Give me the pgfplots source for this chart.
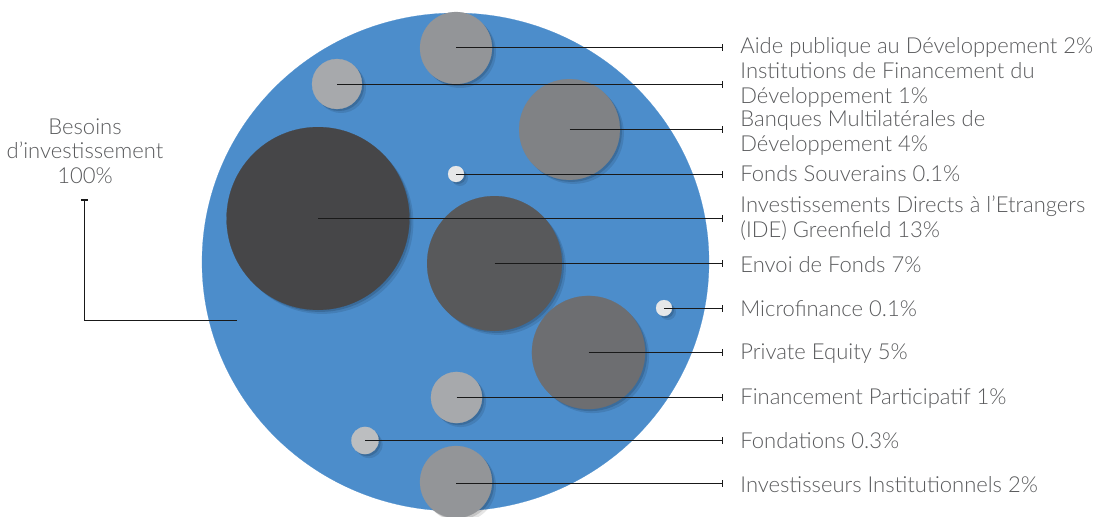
\documentclass[border=0pt]{standalone}
\usepackage{pgfplots}
\pgfplotsset{compat=1.18}
\usepackage{fontspec}
\setmainfont{Lato}[UprightFont=* Light]
\definecolor{bigblue}{HTML}{4C8DCB}
\definecolor{txt}{HTML}{595A5C}
\definecolor{cA}{HTML}{939598}
\definecolor{cB}{HTML}{A7A9AC}
\definecolor{cC}{HTML}{808285}
\definecolor{cD}{HTML}{E6E7E8}
\definecolor{cE}{HTML}{464648}
\definecolor{cF}{HTML}{58595B}
\definecolor{cG}{HTML}{6D6E71}
\definecolor{cH}{HTML}{BCBEC0}
\newcommand\bub[4]{%
  \addplot[only marks, mark=*, mark size=#3pt, mark options={draw=black, fill=black, draw opacity=0, fill opacity=0.10, xshift=2pt, yshift=-2pt}] coordinates {(#1,#2)};
  \addplot[only marks, mark=*, mark size=#3pt, mark options={draw=black, fill=black, draw opacity=0, fill opacity=0.14, xshift=1pt, yshift=-1pt}] coordinates {(#1,#2)};
  \addplot[only marks, mark=*, mark size=#3pt, mark options={draw=#4, fill=#4, line width=0.1pt}] coordinates {(#1,#2)};
}
\newcommand\lead[2]{%
  \addplot[on layer=axis foreground, black!90, line width=0.55pt, mark=|, mark indices={2}, mark size=1.6pt, mark options={solid, line width=0.9pt}] coordinates {(#1,#2) (722.5,#2)};
}
\begin{document}
\begin{tikzpicture}
\begin{axis}[set layers, hide axis, scale only axis, width=548pt, height=258pt,
  xmin=0, xmax=1096, ymin=0, ymax=516, y dir=reverse, clip=false]
% big circle
\addplot[only marks, mark=*, mark size=124.5pt, mark options={draw=bigblue, fill=bigblue, line width=0.1pt, xscale=1.018}] coordinates {(455.5,262)};
% bubbles: x y radius(pt = px/2) colour
\bub{456}{48}{18}{cA}
\bub{337}{84}{12.5}{cB}
\bub{569.5}{129.5}{25.2}{cC}
\bub{456}{174}{4}{cD}
\bub{318}{218.5}{45.7}{cE}
\bub{494.5}{263.5}{33.7}{cF}
\bub{664}{308}{4}{cD}
\bub{588.5}{352.5}{28.3}{cG}
\bub{456.5}{397.5}{12.8}{cB}
\bub{365}{440.5}{6.8}{cH}
\bub{456}{482}{18}{cA}
% leader lines
\lead{456}{47.5}
\lead{337}{84.5}
\lead{569.5}{129.5}
\lead{456}{174.5}
\lead{318}{218.5}
\lead{494.5}{263.5}
\lead{664}{308.5}
\lead{588.5}{352.5}
\lead{456.5}{397.5}
\lead{365}{440.5}
\lead{456}{483.5}
\addplot[on layer=axis foreground, black!90, line width=0.55pt, mark=-, mark indices={1}, mark size=1.6pt, mark options={solid, line width=0.9pt}] coordinates {(84.5,200) (84.5,320.5) (237,320.5)};
% labels
\begin{scope}[every node/.style={anchor=west, inner sep=0pt, align=left, text=txt, font=\fontsize{11}{12.6}\selectfont}]
\node at (axis cs:740,47) {Aide publique au Développement 2\%};
\node at (axis cs:740,85) {Institutions de Financement du\\Développement 1\%};
\node at (axis cs:740,133) {Banques Multilatérales de\\Développement 4\%};
\node at (axis cs:740,174) {Fonds Souverains 0.1\%};
\node at (axis cs:740,218) {Investissements Directs à l’Etrangers\\(IDE) Greenfield 13\%};
\node at (axis cs:740,265) {Envoi de Fonds 7\%};
\node at (axis cs:740,309) {Microfinance 0.1\%};
\node at (axis cs:740,354) {Private Equity 5\%};
\node at (axis cs:740,399) {Financement Participatif 1\%};
\node at (axis cs:740,441) {Fondations 0.3\%};
\node at (axis cs:740,485) {Investisseurs Institutionnels 2\%};
\end{scope}
\node[inner sep=0pt, align=center, text=txt, font=\fontsize{11}{12.2}\selectfont] at (axis cs:85,151) {Besoins\\d’investissement\\100\%};
\end{axis}
\pgfresetboundingbox
\path (current axis.south west) rectangle (current axis.north east);
\end{tikzpicture}
\end{document}
